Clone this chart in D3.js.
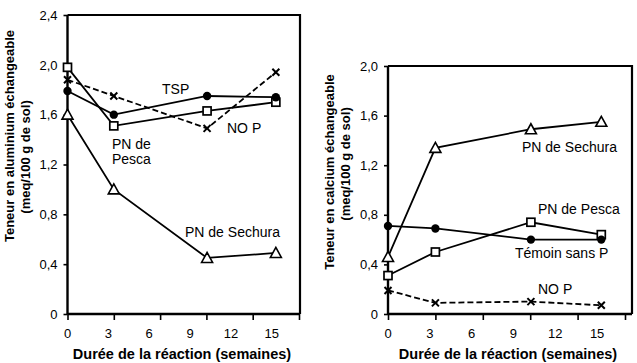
<!DOCTYPE html>
<html><head><meta charset="utf-8">
<script src="https://cdn.jsdelivr.net/npm/d3@7"></script>
<style>
html,body{margin:0;padding:0;background:#fff;}
svg{display:block;font-family:"Liberation Sans",Arial,Helvetica,sans-serif;}
</style></head>
<body>
<svg id="chart" width="637" height="363"></svg>
<script>
// ---- data ----
const weeks = [0, 3.4, 10.25, 15.3];
const xTickLabels = [0, 3, 6, 9, 12, 15];
const xTickMarks = [0, 3.4, 6.8, 10.2, 13.6, 17];

const alTicks = [0, 0.4, 0.8, 1.2, 1.6, 2.0, 2.4];
const caTicks = [0, 0.4, 0.8, 1.2, 1.6, 2.0];

const alTSP = [1.79, 1.60, 1.75, 1.74];
const alPesca = [1.98, 1.51, 1.63, 1.70];
const alNoP = [1.88, 1.75, 1.49, 1.94];
const alSechura = [1.60, 1.00, 0.45, 0.49];

const caSechura = [0.46, 1.34, 1.49, 1.55];
const caTemoin = [0.71, 0.69, 0.60, 0.60];
const caPesca = [0.31, 0.50, 0.74, 0.64];
const caNoP = [0.19, 0.09, 0.10, 0.07];

const svg = d3.select("#chart");
const fmt = v => v === 0 ? "0" : d3.format(".1f")(v).replace(".", ",");

function panel(cfg) {
  const g = svg.append("g");
  const x = d3.scaleLinear().domain([0, 17]).range([cfg.x0, cfg.x1]);
  const y = d3.scaleLinear().domain([0, cfg.ymax]).range([314, cfg.ytop]);

  // box: top and right
  g.append("path")
    .attr("d", `M${cfg.x0},${cfg.ytop}H${cfg.boxR}V314`)
    .attr("fill", "none").attr("stroke", "#000").attr("stroke-width", 2.2);

  // y axis
  const ya = d3.axisLeft(y).tickValues(cfg.yTicks).tickFormat(fmt).tickSize(4).tickPadding(6);
  const yg = g.append("g").attr("transform", `translate(${cfg.x0},0)`).call(ya);
  yg.select(".domain").attr("stroke-width", 2.4).attr("d", `M0,${cfg.ytop}V314`);
  yg.selectAll(".tick line").attr("stroke-width", 1.6);
  yg.selectAll("text").attr("font-size", 13).attr("fill", "#000");

  // x axis tick marks
  const xa = d3.axisBottom(x).tickValues(xTickMarks).tickFormat("").tickSize(6);
  const xg = g.append("g").attr("transform", "translate(0,314)").call(xa);
  xg.select(".domain").attr("stroke-width", 2.4).attr("d", `M${cfg.x0},0H${cfg.boxR}`);
  xg.selectAll(".tick line").attr("stroke-width", 1.6);
  // x tick labels
  g.selectAll(".xl").data(xTickLabels).join("text")
    .attr("x", d => x(d)).attr("y", 338).attr("text-anchor", "middle")
    .attr("font-size", 13).text(d => d);

  // x title
  g.append("text").attr("x", cfg.xTitleX).attr("y", 359).attr("text-anchor", "middle")
    .attr("font-size", 14.5).attr("font-weight", "bold").text("Durée de la réaction (semaines)");

  // y title
  cfg.yTitle.forEach(t => {
    g.append("text").attr("transform", `translate(${t.x},${t.y}) rotate(-90)`)
      .attr("text-anchor", "middle").attr("dominant-baseline", "central")
      .attr("font-size", 13).attr("font-weight", "bold").text(t.text);
  });

  // series
  const line = d3.line().x((d, i) => x(weeks[i])).y(d => y(d));
  cfg.series.forEach(s => {
    g.append("path").attr("d", line(s.values)).attr("fill", "none")
      .attr("stroke", "#000").attr("stroke-width", 1.8)
      .attr("stroke-dasharray", s.dash ? "6,3" : null);
    const pts = g.selectAll(null).data(s.values).join("g")
      .attr("transform", (d, i) => `translate(${x(weeks[i])},${y(d)})`);
    if (s.marker === "square") {
      pts.append("rect").attr("x", -4).attr("y", -4).attr("width", 8).attr("height", 8)
        .attr("fill", "#fff").attr("stroke", "#000").attr("stroke-width", 1.7);
    } else if (s.marker === "circle") {
      pts.append("circle").attr("r", 4.2).attr("fill", "#000");
    } else if (s.marker === "triangle") {
      pts.append("path").attr("d", "M0,-5.5L5.5,4.5H-5.5Z")
        .attr("fill", "#fff").attr("stroke", "#000").attr("stroke-width", 1.6);
    } else if (s.marker === "x") {
      pts.append("path").attr("d", "M-3.5,-3.5L3.5,3.5M-3.5,3.5L3.5,-3.5")
        .attr("stroke", "#000").attr("stroke-width", 2);
    }
  });

  // annotations
  cfg.labels.forEach(l => {
    g.append("text").attr("x", l.x).attr("y", l.y).attr("dominant-baseline", "central")
      .attr("font-size", 14).text(l.text);
  });
}

panel({
  x0: 67.5, x1: 299, boxR: 300, ytop: 15, ymax: 2.4, yTicks: alTicks, xTitleX: 182,
  yTitle: [
    { x: 9, y: 136, text: "Teneur en aluminium échangeable" },
    { x: 25, y: 157, text: "(meq/100 g de sol)" }
  ],
  series: [
    { values: alSechura, marker: "triangle" },
    { values: alPesca, marker: "square" },
    { values: alTSP, marker: "circle" },
    { values: alNoP, marker: "x", dash: true }
  ],
  labels: [
    { x: 162, y: 89, text: "TSP" },
    { x: 227, y: 128, text: "NO P" },
    { x: 112, y: 144, text: "PN de" },
    { x: 112, y: 159, text: "Pesca" },
    { x: 185, y: 232, text: "PN de Sechura" }
  ]
});

panel({
  x0: 388, x1: 625, boxR: 632, ytop: 66, ymax: 2.0, yTicks: caTicks, xTitleX: 508,
  yTitle: [
    { x: 329, y: 172, text: "Teneur en calcium échangeable" },
    { x: 345, y: 164, text: "(meq/100 g de sol)" }
  ],
  series: [
    { values: caSechura, marker: "triangle" },
    { values: caPesca, marker: "square" },
    { values: caTemoin, marker: "circle" },
    { values: caNoP, marker: "x", dash: true }
  ],
  labels: [
    { x: 522, y: 147, text: "PN de Sechura" },
    { x: 538, y: 209, text: "PN de Pesca" },
    { x: 515, y: 253, text: "Témoin sans P" },
    { x: 538, y: 289, text: "NO P" }
  ]
});
</script>
</body></html>
